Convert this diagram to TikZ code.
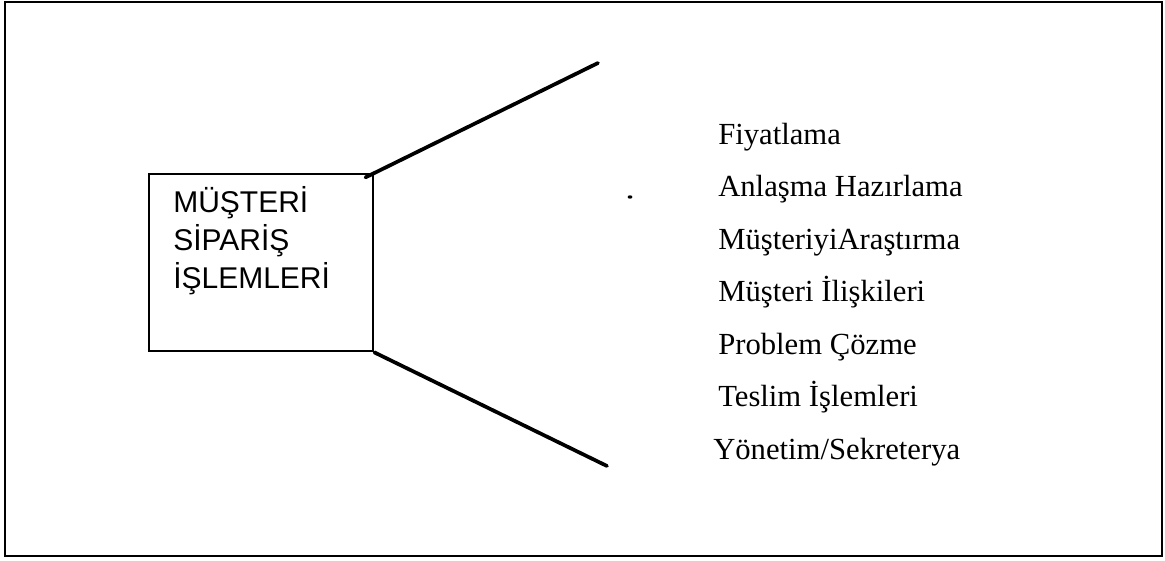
\documentclass[tikz,border=0pt]{standalone}
\usepackage{fontspec}
\newfontfamily\arialf{Liberation Sans}
\newfontfamily\timesf{Liberation Serif}
\begin{document}
\begin{tikzpicture}[x=0.75pt,y=-0.75pt,
  frame/.style={draw=black,line width=1.8pt},
  boxstyle/.style={draw=black,line width=1.8pt,rectangle,inner sep=0pt,
     minimum width=168pt,minimum height=132.75pt,anchor=north west},
  boxtxt/.style={font=\arialf\fontsize{22.5pt}{28pt}\selectfont,anchor=base west,inner sep=0pt},
  item/.style={font=\timesf\fontsize{23pt}{28pt}\selectfont,anchor=base west,inner sep=0pt},
  conn/.style={draw=black,line width=2.8pt,line cap=round}]
\useasboundingbox (0,0) rectangle (1165,561);
\draw[frame] (5,2) rectangle (1162,556);
\node[boxstyle] (box) at (148,173) {};
\node[boxtxt] (b1) at (173,212) {MÜŞTERİ};
\node[boxtxt] (b2) at (173,250) {SİPARİŞ};
\node[boxtxt] (b3) at (173,288) {İŞLEMLERİ};
\coordinate (u) at (598,63);
\coordinate (d) at (607,466);
\draw[conn,shorten <=-7.5pt] (box.north east) -- (u);
\draw[conn] (box.south east) -- (d);
\fill (630,197) ellipse (2.4 and 1.7);
\node[item] (l1) at (718,144) {Fiyatlama};
\node[item] (l2) at (718,196) {Anlaşma Hazırlama};
\node[item] (l3) at (718,249) {MüşteriyiAraştırma};
\node[item] (l4) at (718,301) {Müşteri İlişkileri};
\node[item] (l5) at (718,354) {Problem Çözme};
\node[item] (l6) at (718,406) {Teslim İşlemleri};
\node[item] (l7) at (713,459) {Yönetim/Sekreterya};
\end{tikzpicture}
\end{document}
